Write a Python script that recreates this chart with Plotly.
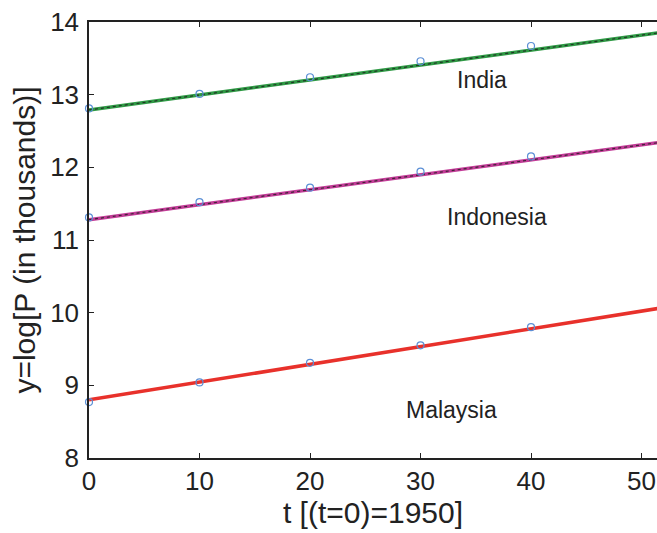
import plotly.graph_objects as go

t_obs = [0, 10, 20, 30, 40]
india = [12.81, 13.01, 13.24, 13.46, 13.67]
indonesia = [11.31, 11.52, 11.72, 11.94, 12.15]
malaysia = [8.77, 9.04, 9.31, 9.55, 9.80]

fit_t = [0, 52]
india_fit = [12.79, 13.86]
indonesia_fit = [11.28, 12.35]
malaysia_fit = [8.80, 10.07]

labels = ["India", "Indonesia", "Malaysia"]
label_t = [35.6, 36.9, 32.8]
label_y = [13.2, 11.31, 8.66]

fig = go.Figure()
# fitted lines
for fy, col, overlay in [(india_fit, "#2f9a45", True),
                         (indonesia_fit, "#c23c97", True),
                         (malaysia_fit, "#e8312b", False)]:
    fig.add_trace(go.Scatter(x=fit_t, y=fy, mode="lines",
                             line=dict(color=col, width=3.5), showlegend=False))
    if overlay:
        fig.add_trace(go.Scatter(x=fit_t, y=fy, mode="lines",
                                 line=dict(color="rgba(30,30,30,0.8)", width=1.2, dash="dot"),
                                 showlegend=False))
# data points
for ys in [india, indonesia, malaysia]:
    fig.add_trace(go.Scatter(x=t_obs, y=ys, mode="markers",
                             marker=dict(symbol="circle-open", size=7, color="#5b8fd6",
                                         line=dict(width=1.2)),
                             showlegend=False, cliponaxis=False))

for lab, lx, ly in zip(labels, label_t, label_y):
    fig.add_annotation(x=lx, y=ly, text=lab, showarrow=False,
                       font=dict(size=23, color="#222", family="Liberation Sans, Arial"),
                       xanchor="center", yanchor="middle")

fig.update_layout(
    width=657, height=533,
    margin=dict(l=89, r=0, t=22, b=75, autoexpand=False),
    plot_bgcolor="white", paper_bgcolor="white",
    font=dict(family="Liberation Sans, Arial", color="#222"),
    xaxis=dict(range=[0, 51.4], tickvals=[0, 10, 20, 30, 40, 50],
               showline=True, linecolor="#222", linewidth=1.5, mirror="ticks",
               ticks="inside", ticklen=5, tickcolor="#222", showgrid=False, zeroline=False,
               tickfont=dict(size=26), ticklabeloverflow="allow", ticklabelstandoff=-1,
               title=dict(text="t [(t=0)=1950]", font=dict(size=30), standoff=2)),
    yaxis=dict(range=[8, 14], tickvals=[8, 9, 10, 11, 12, 13, 14],
               showline=True, linecolor="#222", linewidth=1.5,
               ticks="inside", ticklen=5, tickcolor="#222", showgrid=False, zeroline=False,
               tickfont=dict(size=26), ticklabeloverflow="allow", ticklabelstandoff=3,
               title=dict(text="y=log[P (in thousands)]", font=dict(size=30), standoff=6)),
)

fig.write_html("out.html", config={"displayModeBar": False},
               post_script="document.body.style.margin='0';document.body.style.overflow='hidden';")
